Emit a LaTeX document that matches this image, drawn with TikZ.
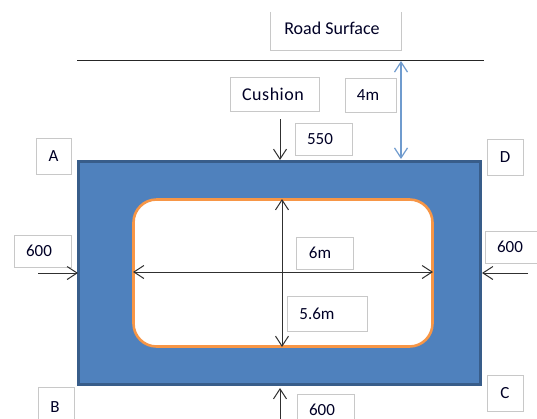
\documentclass[tikz,border=0pt]{standalone}
\usepackage{fontspec}
\setmainfont{Carlito}
\usetikzlibrary{arrows.meta}
\definecolor{wallblue}{HTML}{4F81BD}
\definecolor{walledge}{HTML}{385D8A}
\definecolor{liningorange}{HTML}{F79646}
\definecolor{boxgrey}{HTML}{C8C8C8}
\definecolor{dimblue}{HTML}{6F9BCE}
\definecolor{dimdark}{HTML}{303030}
\tikzset{
  x=1pt,y=-1pt,
  barb/.tip={Straight Barb[length=10pt,width=13pt]},
  label box/.style={draw=boxgrey,line width=1pt,fill=white,inner sep=0pt,font=\fontsize{17}{20}\selectfont,text=black!85!blue},
  road text/.style={inner sep=0pt,font=\fontsize{18}{20}\selectfont,text=black!85!blue},
  dim/.style={draw=dimdark,line width=1pt,barb-barb},
  force/.style={draw=dimdark,line width=1pt,-barb},
  clear dim/.style={draw=dimblue,line width=1.2pt,barb-barb}
}
\begin{document}
\begin{tikzpicture}
\useasboundingbox (0,0) rectangle (537,418);
\clip (0,0) rectangle (537,418);
\fill[white] (0,0) rectangle (537,418);
% wall
\node[draw=walledge,line width=2.6pt,fill=wallblue,minimum width=402pt,minimum height=223pt,inner sep=0pt] (wall) at (279.5,273) {};
\node[draw=liningorange,line width=2.6pt,fill=white,rounded corners=23pt,minimum width=299pt,minimum height=147pt,inner sep=0pt] (bore) at (283,273) {};
% road
\coordinate (roadL) at (77,60);
\coordinate (roadR) at (484,60);
\node[road text,minimum width=130pt,minimum height=38pt] (road) at (336,31) {\raisebox{-2pt}{Road Surface}\kern8pt\rule[-8pt]{0pt}{0pt}};
\draw[boxgrey,line width=1pt] (road.north west)--(road.south west)--(road.south east)--(road.north east);
\draw[black!85,line width=1pt] (roadL)--(roadR);
% boxes
\node[label box,minimum width=35pt,minimum height=36pt] (A) at (53.5,156) {A};
\node[label box,minimum width=36pt,minimum height=36pt] (D) at (505,157) {D};
\node[label box,minimum width=36pt,minimum height=40pt] (B) at (56,407) {B\kern2pt};
\node[label box,minimum width=36pt,minimum height=36pt] (C) at (505,393) {C};
\node[label box,minimum width=89pt,minimum height=34pt,font=\fontsize{18}{20}\selectfont] (cushion) at (274.5,94) {\addfontfeature{LetterSpace=3}Cushion\kern3pt};
\node[label box,minimum width=51pt,minimum height=34pt] (fourm) at (370.5,95) {\raisebox{-1pt}{4m}\kern5pt};
\node[label box,minimum width=57pt,minimum height=32pt] (top600) at (323.5,139) {\raisebox{-2pt}{550}\kern7pt};
\node[label box,minimum width=57pt,minimum height=32pt] (left600) at (42.5,251) {\raisebox{-1pt}{600}\kern7pt};
\node[label box,minimum width=60pt,minimum height=32pt] (right600) at (515,247) {600\kern10pt};
\node[label box,minimum width=57pt,minimum height=32pt] (sixm) at (325,253) {\raisebox{-2pt}{6m}\kern10pt};
\node[label box,minimum width=80pt,minimum height=35pt] (fivesix) at (327,314) {5.6m\kern20pt};
\node[label box,minimum width=57pt,minimum height=32pt] (bot600) at (325.5,410) {\raisebox{1pt}{600}\kern7pt};
% dimension end points
\coordinate (topF) at (280,119);
\coordinate (topT) at (280,160);
\coordinate (leftF) at (38,273);
\coordinate (leftT) at (78,273);
\coordinate (rightF) at (528,273);
\coordinate (rightT) at (482,273);
\coordinate (botF) at (280,420);
\coordinate (botT) at (280,388);
\coordinate (clrT) at (401,61);
\coordinate (clrB) at (401,159);
\coordinate (vT) at (282,199);
\coordinate (vB) at (282,347);
\coordinate (hL) at (133,272);
\coordinate (hR) at (433,272);
\draw[force] (topF)--(topT);
\draw[force] (leftF)--(leftT);
\draw[force] (rightF)--(rightT);
\draw[force] (botF)--(botT);
\draw[clear dim] (clrT)--(clrB);
\draw[dim] (vT)--(vB);
\draw[dim] (hL)--(hR);
\end{tikzpicture}
\end{document}
